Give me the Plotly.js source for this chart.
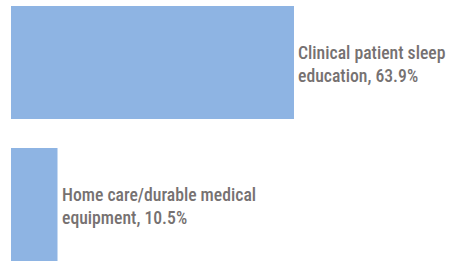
<!DOCTYPE html>
<html>
<head>
<meta charset="utf-8">
<script src="https://cdn.plot.ly/plotly-3.0.1.min.js"></script>
<style>html,body{margin:0;padding:0;background:#fff;}#chart{width:449px;height:261px;}</style>
</head>
<body>
<div id="chart"></div>
<script>
const categories = ["Clinical patient sleep<br>education", "Home care/durable medical<br>equipment"];
const values = [63.9, 10.5];
const labels = ["63.9%", "10.5%"];

const trace = {
  type: 'bar',
  orientation: 'h',
  y: [0, 1],
  x: values,
  marker: {color: '#8eb4e3'},
  hoverinfo: 'none'
};

const annotations = values.map((v, i) => ({
  x: v, y: i, xref: 'x', yref: 'y',
  text: categories[i] + ', ' + labels[i],
  showarrow: false, xanchor: 'left', yanchor: 'middle', align: 'left',
  xshift: 2, yshift: -2,
  font: {family: 'Roboto Condensed, DejaVu Sans Condensed, sans-serif', size: 17.7, weight: 500, color: '#767171'}
}));

const layout = {
  width: 449, height: 261,
  margin: {l: 11, r: 0, t: 0, b: 0},
  paper_bgcolor: '#fff', plot_bgcolor: '#fff',
  showlegend: false,
  bargap: 0.204,
  xaxis: {range: [0, 98.9], visible: false, fixedrange: true},
  yaxis: {range: [1.398, -0.44], visible: false, fixedrange: true},
  annotations: annotations
};

Plotly.newPlot('chart', [trace], layout, {staticPlot: true, displayModeBar: false});
</script>
</body>
</html>
